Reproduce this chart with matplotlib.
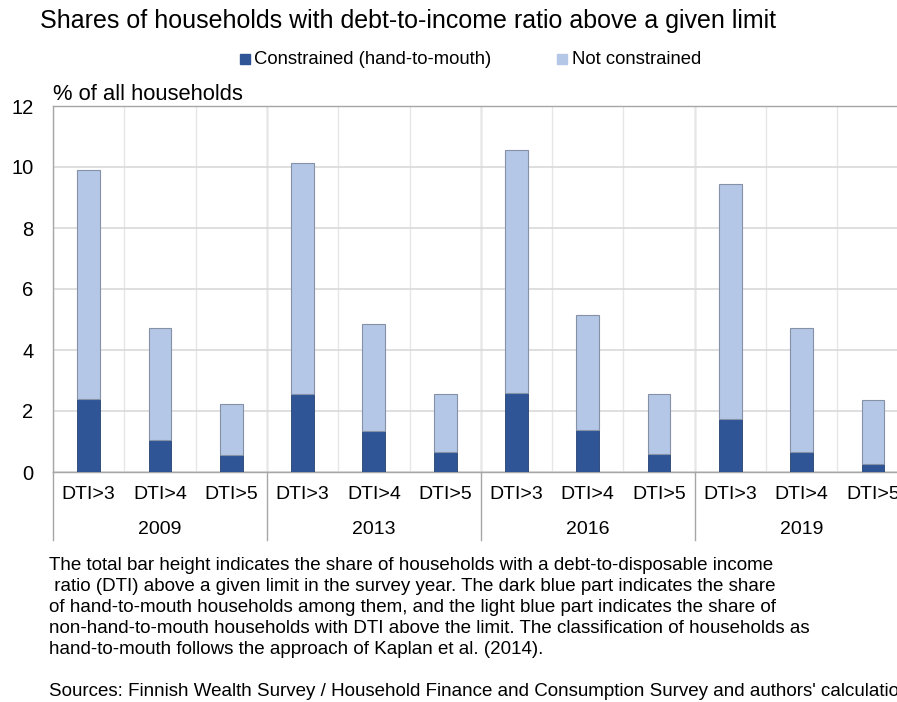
import matplotlib

matplotlib.use('Agg')
import matplotlib.pyplot as plt
import matplotlib.transforms as mtransforms
import numpy as np

plt.rcParams['font.family'] = ['Liberation Sans', 'DejaVu Sans']

years = ['2009', '2013', '2016', '2019']
dti_labels = ['DTI>3', 'DTI>4', 'DTI>5']

# in groups of three per survey year
constrained = [2.39, 1.05, 0.57,
               2.56, 1.34, 0.67,
               2.58, 1.38, 0.59,
               1.74, 0.64, 0.25]
total = [9.91, 4.73, 2.22,
         10.13, 4.85, 2.57,
         10.56, 5.14, 2.57,
         9.44, 4.72, 2.35]

not_constrained = [t - c for t, c in zip(total, constrained)]

dark_blue = '#2F5597'
light_blue = '#B4C7E7'
edge = '#8591A6'

W, H = 897, 702
fig = plt.figure(figsize=(W / 100, H / 100), dpi=100)

# axes runs a little past the right edge, like the original
ax = fig.add_axes([53 / W, 1 - 472 / H, 855.6 / W, 366 / H])

x = np.arange(len(total))
ax.bar(x, constrained, width=0.32, color=dark_blue, edgecolor='#24406f',
       linewidth=0.6, zorder=3)
ax.bar(x, not_constrained, bottom=constrained, width=0.32, color=light_blue,
       edgecolor=edge, linewidth=0.8, zorder=3)

ax.set_xlim(-0.5, len(total) - 0.5)
ax.set_ylim(0, 12)
ax.set_yticks(range(0, 13, 2))
ax.set_xticks(x)
ax.set_xticklabels(dti_labels * len(years))
ax.set_xticks(np.arange(-0.5, len(total), 1), minor=True)
ax.tick_params(axis='both', length=0, labelsize=14, colors='black')
ax.tick_params(axis='y', pad=14, labelsize=14.5)
ax.tick_params(axis='x', pad=10)
ax.tick_params(axis='x', which='minor', length=0)

ax.grid(axis='y', color='#D9D9D9', linewidth=1.2, zorder=0)
ax.grid(axis='x', which='minor', color='#E6E6E6', linewidth=1.0, zorder=0)

for side in ['top', 'left', 'bottom']:
    ax.spines[side].set_color('#A6A6A6')
    ax.spines[side].set_linewidth(1.0)
ax.spines['right'].set_visible(False)

# group separators below the axis and year labels
trans = mtransforms.blended_transform_factory(ax.transData, ax.transAxes)
for i in range(len(years)):
    sep = i * 3 - 0.5
    ax.plot([sep, sep], [0, -68 / 366], color='#A6A6A6', linewidth=1.0,
            transform=trans, clip_on=False)
    if i > 0:
        ax.plot([sep, sep], [0, 1], color='#BFBFBF', linewidth=1.0,
                transform=trans, zorder=1)
    ax.text(i * 3 + 1, -57 / 366, years[i], transform=trans, ha='center',
            va='center', fontsize=14)

fig.text(40 / W, 1 - 21 / H, 'Shares of households with debt-to-income ratio above a given limit',
         fontsize=18, va='center', ha='left')
fig.text(53 / W, 1 - 95 / H, '% of all households', fontsize=15.8, va='center', ha='left')

# legend drawn by hand so it sits exactly where the original has it
fig.patches.append(plt.Rectangle((240 / W, 1 - 64 / H), 10 / W, 10 / H,
                                 color=dark_blue, transform=fig.transFigure))
fig.text(254 / W, 1 - 59 / H, 'Constrained (hand-to-mouth)', fontsize=13.3,
         va='center', ha='left')
fig.patches.append(plt.Rectangle((557 / W, 1 - 64 / H), 10 / W, 10 / H,
                                 color=light_blue, transform=fig.transFigure))
fig.text(572 / W, 1 - 59 / H, 'Not constrained', fontsize=13.3,
         va='center', ha='left')

note = ("The total bar height indicates the share of households with a debt-to-disposable income\n"
        " ratio (DTI) above a given limit in the survey year. The dark blue part indicates the share\n"
        "of hand-to-mouth households among them, and the light blue part indicates the share of\n"
        "non-hand-to-mouth households with DTI above the limit. The classification of households as\n"
        "hand-to-mouth follows the approach of Kaplan et al. (2014).")
fig.text(49 / W, 1 - 557 / H, note, fontsize=13.5, va='top', ha='left', linespacing=1.315)
fig.text(49 / W, 1 - 692 / H,
         "Sources: Finnish Wealth Survey / Household Finance and Consumption Survey and authors' calculations",
         fontsize=13.5, va='center', ha='left')

fig.savefig('out.png', dpi=100)
